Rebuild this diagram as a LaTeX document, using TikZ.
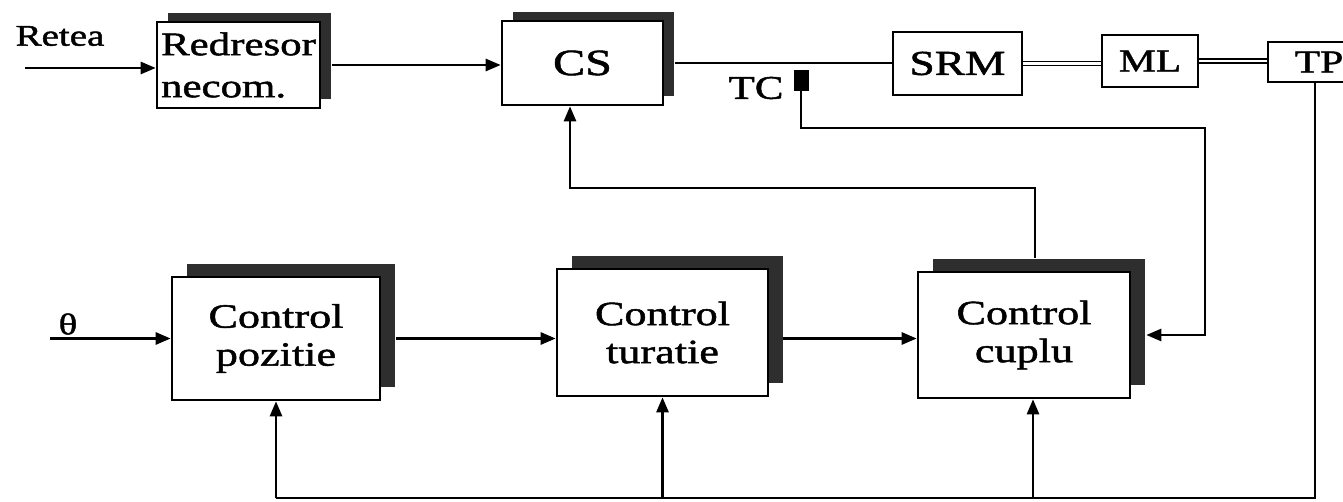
\documentclass[tikz,border=0pt]{standalone}
\usepackage{fontspec}
\setmainfont{Liberation Serif}[FakeStretch=1.3,FakeBold=1.5]
\usetikzlibrary{arrows.meta,shadows}
\begin{document}
\begin{tikzpicture}[x=1pt,y=-1pt,
  ln/.style={line width=2.6pt},
  arr/.style={ln,-{Triangle[length=15pt,width=12pt]}},
  blk/.style={draw,line width=2.6pt,fill=white,inner sep=0pt,align=center},
  shadU/.style={general shadow={fill=black!82,shadow xshift=11pt,shadow yshift=9pt}},
  shadL/.style={general shadow={fill=black!82,shadow xshift=15pt,shadow yshift=13pt}},
  dbl/.style={line width=1.6pt,double,double distance=2.6pt},
  ctl/.style={blk,shadL,font=\fontsize{34}{38}\selectfont}
]
\useasboundingbox (0,0) rectangle (1343,502);
\clip (0,0) rectangle (1343,502);

% top row
\node[blk,shadU,minimum width=163pt,minimum height=86pt,align=left,font=\fontsize{33}{42}\selectfont] (redr) at (238.5,65) {Redresor\\necom.};
\node[blk,shadU,minimum width=161pt,minimum height=84pt,font=\fontsize{37}{40}\selectfont] (cs) at (582.5,63) {CS};
\node[blk,minimum width=129pt,minimum height=63pt,font=\fontsize{35}{38}\selectfont] (srm) at (957.5,63.5) {SRM};
\node[blk,minimum width=96pt,minimum height=52pt,font=\fontsize{32}{35}\selectfont] (ml) at (1150,61) {ML};
\node[blk,minimum width=102pt,minimum height=40pt,font=\fontsize{32}{35}\selectfont] (tp) at (1319,62) {TP};
\node[draw,fill=black,line width=1pt,minimum width=14pt,minimum height=20pt,inner sep=0pt] (tc) at (801,81) {};
\node[font=\fontsize{33}{36}\selectfont] (tcl) at (756,88) {TC};
\node[font=\fontsize{30}{34}\selectfont] (retea) at (60,36) {Retea};

% bottom row
\node[ctl,minimum width=208pt,minimum height=123pt] (poz) at (276,338.5) {Control\\pozitie};
\node[ctl,minimum width=211pt,minimum height=127pt] (tur) at (662.5,332.5) {Control\\turatie};
\node[ctl,minimum width=212pt,minimum height=126pt] (cup) at (1024,335) {Control\\cuplu};
\node[font=\fontsize{30}{34}\selectfont] (theta) at (68,324) {θ};

% connectors top
\coordinate (rin) at (25,68);
\draw[arr] (rin) -- (rin -| redr.west);
\draw[arr] ([xshift=11pt]redr.east) -- (redr.east -| cs.west);
\draw[ln] ([xshift=11pt]cs.east) -- (cs.east -| srm.west);
\draw[dbl] (srm.east) -- (srm.east -| ml.west);
\draw[dbl] (ml.east) -- (ml.east -| tp.west);

% feedback from TP
\coordinate (bot) at (1315,498);
\coordinate (cupin) at ([xshift=9pt]cup.south);
\draw[ln] ([xshift=-4pt]tp.south) -- (bot) -- (bot -| poz.south);
\draw[arr] (bot -| poz.south) -- (poz.south);
\draw[arr] (bot -| tur.south) -- (tur.south);
\draw[arr] (bot -| cupin) -- (cupin);

% feedback to CS
\coordinate (cupout) at ([shift={(11pt,13pt)}]cup.north);
\coordinate (fb) at (570,188);
\draw[arr] (cupout) |- (fb) -- (fb |- cs.south);

% TC feedback
\coordinate (tcr) at (1205,128);
\draw[arr] (tc.south) |- (tcr) |- ([xshift=15pt]cup.east);

% bottom forward path
\coordinate (thin) at (50,338.5);
\draw[arr] (thin) -- (thin -| poz.west);
\draw[arr] ([xshift=15pt]poz.east) -- (poz.east -| tur.west);
\coordinate (m) at (783,338.5);
\draw[arr] (m) -- (m -| cup.west);
\end{tikzpicture}
\end{document}
